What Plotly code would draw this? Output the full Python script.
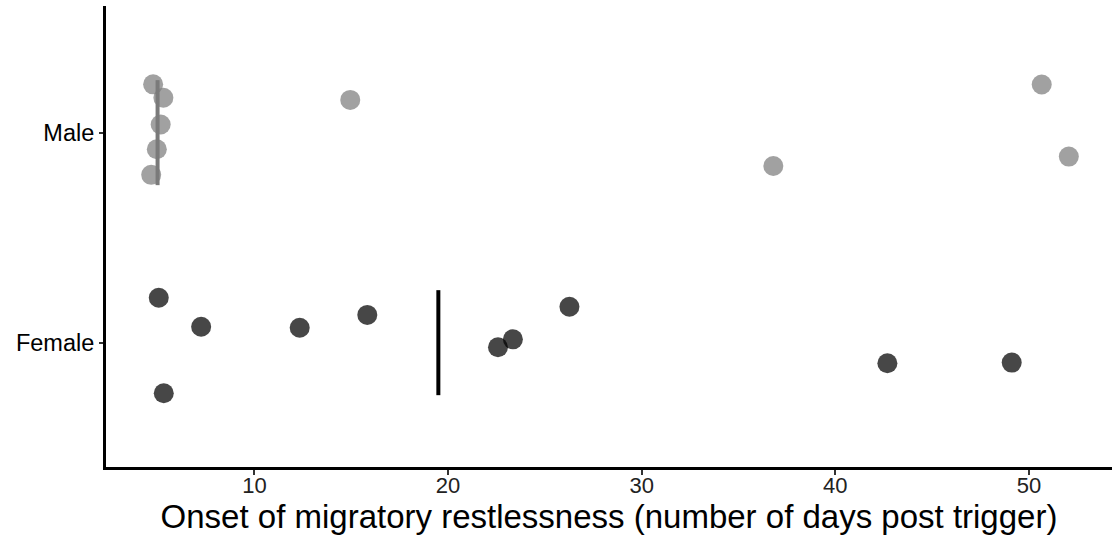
import plotly.graph_objects as go

# Onset of migratory restlessness (days post trigger), jittered strip plot by sex
groups = ["Female", "Male"]

female_days = [5.06, 7.25, 12.34, 15.83, 5.32, 22.58, 23.35, 26.27, 42.69, 49.11]
female_jitter = [0.214, 0.076, 0.071, 0.132, -0.241, -0.022, 0.016, 0.171, -0.098, -0.095]

male_days = [4.77, 5.30, 5.16, 4.96, 4.67, 14.95, 36.80, 50.66, 52.06]
male_jitter = [0.230, 0.166, 0.039, -0.079, -0.201, 0.156, -0.159, 0.229, -0.114]

medians = [19.5, 5.0]
median_half_width = 0.25

x_ticks = [10, 20, 30, 40, 50]

point_colors = ["rgba(0,0,0,0.72)", "rgba(128,128,128,0.74)"]
median_colors = ["#000000", "#7a7a7a"]

FONT = "Liberation Sans, Arial, Helvetica, sans-serif"

fig = go.Figure()

for i, (days, jit) in enumerate([(female_days, female_jitter), (male_days, male_jitter)]):
    pos = i + 1
    fig.add_trace(go.Scatter(
        x=days,
        y=[pos + j for j in jit],
        mode="markers",
        marker=dict(size=20, color=point_colors[i], line=dict(width=0)),
        name=groups[i],
        showlegend=False,
        hoverinfo="x+name",
    ))

for i, med in enumerate(medians):
    pos = i + 1
    fig.add_trace(go.Scatter(
        x=[med, med],
        y=[pos - median_half_width, pos + median_half_width],
        mode="lines",
        line=dict(color=median_colors[i], width=4),
        showlegend=False,
        hoverinfo="skip",
    ))

fig.update_layout(
    width=1112,
    height=539,
    margin=dict(l=105.5, r=0, t=6, b=72),
    paper_bgcolor="white",
    plot_bgcolor="white",
    font=dict(family=FONT, color="#000000"),
    xaxis=dict(
        range=[2.336, 54.29],
        tickvals=x_ticks,
        ticktext=[str(t) for t in x_ticks],
        showgrid=False,
        zeroline=False,
        showline=True,
        linecolor="black",
        linewidth=3,
        ticks="outside",
        ticklen=5,
        tickwidth=1.5,
        tickcolor="#333333",
        tickfont=dict(size=22, color="#222222"),
        ticklabelposition="outside",
        ticklabelstandoff=-8,
        title=dict(
            text="Onset of migratory restlessness (number of days post trigger)",
            font=dict(size=33, color="#000000"),
            standoff=0,
        ),
    ),
    yaxis=dict(
        range=[0.408, 2.603],
        tickvals=[1, 2],
        ticktext=groups,
        showgrid=False,
        zeroline=False,
        showline=True,
        linecolor="black",
        linewidth=3,
        ticks="outside",
        ticklen=4,
        tickwidth=1.5,
        tickcolor="#333333",
        tickfont=dict(size=23.5, color="#000000"),
    ),
)

fig.write_html("out.html")
